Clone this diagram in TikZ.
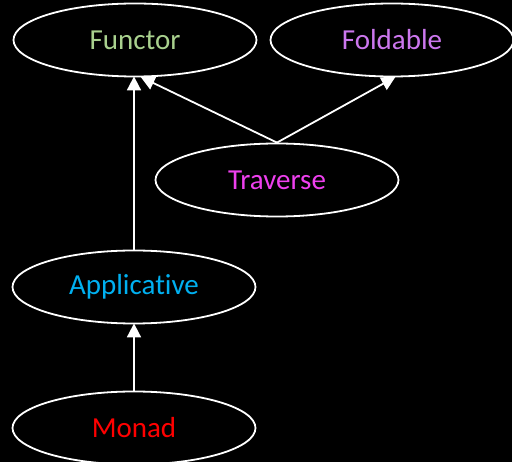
\documentclass[tikz,border=0pt]{standalone}
\usepackage{fontspec}
\setmainfont{Carlito}[Ligatures=NoCommon]
\usetikzlibrary{shapes.geometric,arrows.meta}
\definecolor{cfunctor}{HTML}{A9D18E}
\definecolor{cfold}{HTML}{CC77EE}
\definecolor{ctrav}{HTML}{EE40EE}
\definecolor{capp}{HTML}{00B0F0}
\definecolor{cmonad}{HTML}{FF0000}
\begin{document}
\begin{tikzpicture}[x=1pt,y=-1pt,
  cls/.style={ellipse,draw=white,fill=black,line width=1.8pt,minimum width=243pt,minimum height=73pt,inner sep=0pt,font=\fontsize{29}{33}\selectfont},
  arr/.style={draw=white,line width=1.8pt,-{Triangle[width=14pt,length=14pt]},shorten >=-1pt}]
\fill[black] (0,0) rectangle (512,462);
\useasboundingbox (0,0) rectangle (512,462);
\node[cls,text=cfunctor] (functor) at (135,40) {Functor};
\node[cls,text=cfold] (fold) at (392,40) {Foldable};
\node[cls,text=ctrav] (trav) at (277,180) {Traverse};
\node[cls,text=capp] (app) at (134,287) {Applicative};
\node[cls,text=cmonad] (monad) at (134,428) {Monad};
\draw[arr] (app.north) -- (app.north |- functor.south);
\draw[arr] (monad.north) -- (app.south);
\draw[arr] (trav.north) -- (functor.-80);
\draw[arr] (trav.north) -- (fold.-86);
\end{tikzpicture}
\end{document}
